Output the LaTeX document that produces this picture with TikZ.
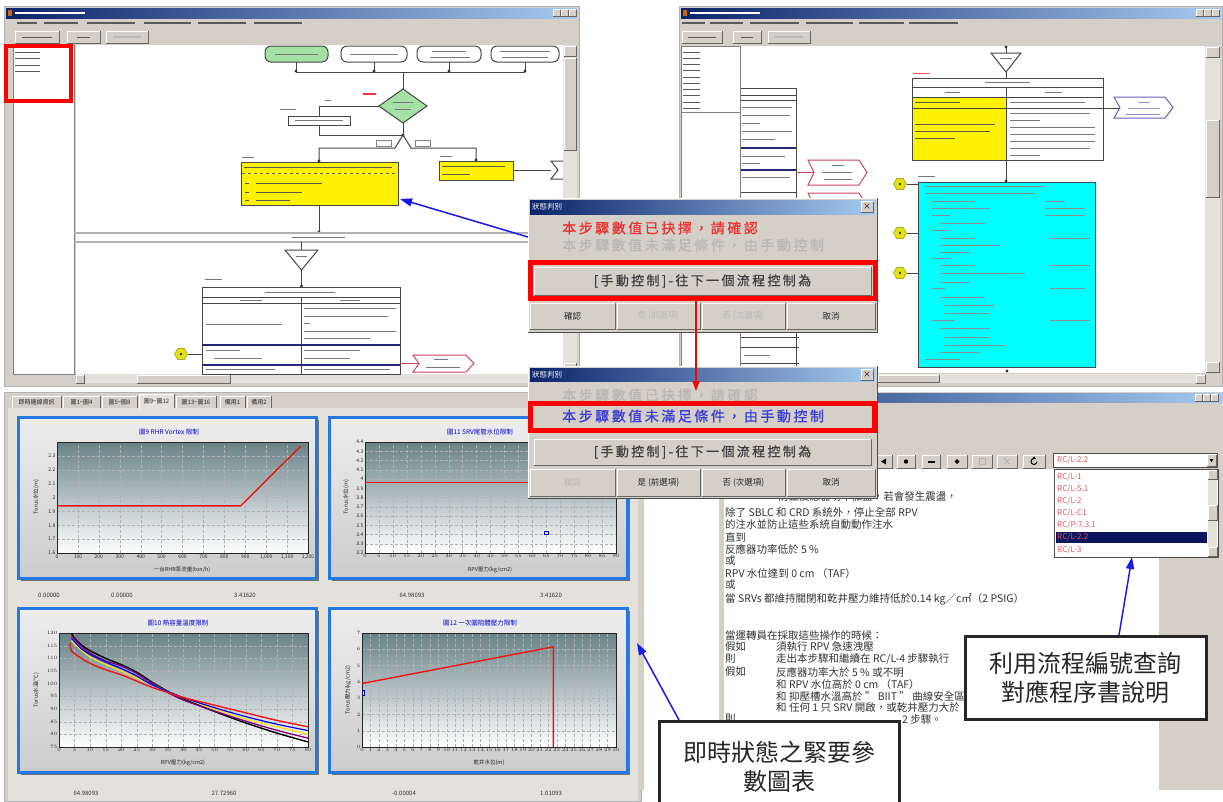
\documentclass[tikz,border=0pt]{standalone}
\usepackage{fontspec}
\usepackage{pgfplots}
\pgfplotsset{compat=1.18}
\usetikzlibrary{arrows.meta,shapes.geometric,calc}
\setmainfont{Noto Sans CJK TC}
\newfontfamily\dlgfont[LetterSpace=18,FakeBold=0.8]{Noto Sans CJK TC}

\definecolor{winbg}{RGB}{212,208,200}
\definecolor{winlt}{RGB}{228,225,218}
\definecolor{navy}{RGB}{10,36,106}
\definecolor{ltblue}{RGB}{166,202,240}
\definecolor{fcgreen}{RGB}{165,225,165}
\definecolor{fccyan}{RGB}{0,255,255}
\definecolor{fcline}{RGB}{70,70,70}
\definecolor{tblnavy}{RGB}{40,40,120}
\definecolor{pinkred}{RGB}{205,70,95}
\definecolor{sigpurple}{RGB}{110,90,190}
\definecolor{hexyellow}{RGB}{225,225,20}
\definecolor{callblue}{RGB}{25,25,235}
\definecolor{panelblue}{RGB}{35,120,225}
\definecolor{plottop}{RGB}{105,130,135}
\definecolor{plotmid}{RGB}{195,208,208}
\definecolor{limitred}{RGB}{240,20,20}
\definecolor{dlgred}{RGB}{235,50,50}
\definecolor{dlgblue}{RGB}{60,60,215}
\definecolor{dlggrey}{RGB}{185,183,178}
\definecolor{listpink}{RGB}{225,85,100}
\definecolor{selnavy}{RGB}{12,22,95}
\definecolor{blurtxt}{RGB}{120,120,120}

% classic raised button face
\newcommand{\wbtn}[4]{%
  \fill[winbg] (#1,#2) rectangle (#3,#4);
  \draw[white] (#1,#4) -- (#1,#2) -- (#3,#2);
  \draw[black!60] (#1,#4) -- (#3,#4) -- (#3,#2);
}
% chart card with shadow and blue frame
\newcommand{\chartcard}[4]{%
  \fill[black!55] (#1+3,#2+3) rectangle (#3+3,#4+3);
  \shade[top color=white!93!black, bottom color=black!20] (#1,#2) rectangle (#3,#4);
  \draw[panelblue, line width=3pt] (#1,#2) rectangle (#3,#4);
}

\tikzset{
  titlebar/.style={left color=navy, right color=ltblue},
  ghost/.style={draw=blurtxt, line width=1.2pt},
  inkline/.style={draw=black!65, line width=1pt},
  ghostw/.style={draw=white, line width=1.3pt},
  fcbox/.style={draw=fcline, line width=1pt},
  hilite/.style={draw=red, line width=5pt},
  callout/.style={draw=black!85, line width=2.6pt, fill=white, align=center,
    text=black!85, font=\fontsize{24}{29}\selectfont, inner sep=0pt},
  callarrow/.style={draw=callblue, line width=1.5pt, -{Triangle[length=12pt,width=8pt]}},
  dlgtext/.style={anchor=west, inner sep=0pt, font=\dlgfont\fontsize{14}{14}\selectfont},
  btntext/.style={inner sep=0pt, font=\fontsize{8.5}{9}\selectfont},
  pane text/.style={anchor=west, inner sep=0pt, text=black!80, font=\fontsize{10.5}{11}\selectfont},
  tick text/.style={inner sep=0pt, font=\fontsize{6}{6}\selectfont, text=black!80},
  chart title/.style={inner sep=0pt, font=\fontsize{6.5}{7}\selectfont, text=blue!80!black},
  axis name/.style={inner sep=0pt, font=\fontsize{5.5}{6}\selectfont, text=black!85},
  list item/.style={anchor=west, inner sep=0pt, text=listpink, font=\fontsize{8}{8}\selectfont},
}

\pgfplotsset{
  chartax/.style={
    scale only axis, anchor=north west,
    axis background/.style={shade, top color=plottop, middle color=plotmid, bottom color=white},
    grid=major,
    major grid style={densely dashed, draw=black!30, line width=0.3pt},
    tick label style={font=\fontsize{5}{5}\selectfont, text=black!85},
    major tick length=0pt,
    axis line style={draw=black!85, line width=0.8pt},
    xticklabel style={inner sep=1.5pt},
    yticklabel style={inner sep=1.5pt},
  },
  limitline/.style={draw=limitred, line width=1.4pt, mark=none},
}

\begin{document}
\begin{tikzpicture}[x=1pt,y=-1pt]
\useasboundingbox (0,0) rectangle (1223,801);
\fill[white] (0,0) rectangle (1223,801);

%================ flow-sheet window, upper left
\fill[winbg] (4,6) rectangle (579,386);
\draw[gray!60] (4,6) rectangle (579,386);
\shade[titlebar] (6,8) rectangle (577,18);
\fill[orange!80!black] (8,10) rectangle (12,16);
\draw[ghostw] (15,13) -- (85,13);
\foreach \x in {553,561,569}{\wbtn{\x}{9.5}{\x+7}{16.5}}
\foreach \a/\b in {17/37,44/78,87/135,144/191,198/246,254/302}{\draw[inkline,line width=1.2pt] (\a,23) -- (\b,23);}
\wbtn{15}{31}{59}{43} \draw[inkline] (22,37) -- (52,37);
\wbtn{67}{31}{100}{43} \draw[inkline] (77,37) -- (90,37);
\wbtn{106}{31}{148}{43} \draw[ghost,draw=gray!55] (113,37) -- (141,37);
\fill[white] (13,45) rectangle (74,374);
\draw[gray] (13,45) rectangle (74,374);
\fill[white] (76,45) rectangle (563,374);
\fill[winlt] (563,45) rectangle (577,374);
\wbtn{564}{46}{576}{56}
\wbtn{564}{58}{576}{150}
\wbtn{564}{363}{576}{373}
\fill[winlt] (76,374) rectangle (563,383);
\wbtn{76}{375}{84}{383}
\wbtn{137}{375}{230}{383}
\foreach \y in {52,58,65,71}{\draw[inkline] (15,\y) -- (40,\y);}
% flow symbols
\filldraw[fcbox, fill=fcgreen, rounded corners=6pt] (265,46) rectangle (328,62);
\filldraw[fcbox, fill=white, rounded corners=6pt] (341,46) rectangle (407,62);
\filldraw[fcbox, fill=white, rounded corners=6pt] (417,46) rectangle (481,62);
\filldraw[fcbox, fill=white, rounded corners=6pt] (491,46) rectangle (559,62);
\draw[ghost,line width=1pt] (275,54) -- (318,54) (350,54) -- (398,54) (432,51) -- (466,51) (430,57) -- (470,57) (500,51) -- (550,51) (502,57) -- (548,57);
\draw[fcbox] (296,62) -- (296,72) (374,62) -- (374,72) (449,62) -- (449,72) (525,62) -- (525,72) (296,72) -- (525,72) (403,72) -- (403,89);
\foreach \x in {296,374,449,525}{\fill[black!80] (\x,71) circle (1.6);}
\filldraw[fcbox, fill=fcgreen] (403,89) -- (427,106) -- (403,123) -- (379,106) -- cycle;
\draw[ghost,line width=1pt] (393,102) -- (413,102) (395,109) -- (411,109);
\draw[draw=red!80, line width=1.2pt] (363,94) -- (376,94);
\draw[fcbox] (379,106) -- (319,106) -- (319,116);
\filldraw[fcbox, fill=white] (288,116) rectangle (350,125);
\draw[ghost,line width=1pt] (295,120.5) -- (343,120.5) (280,109) -- (296,109) (325,100) -- (331,100);
\draw[fcbox] (319,125) -- (319,135) -- (403,135) (403,123) -- (403,135);
\fill[black!80] (403,135) circle (1.6);
\draw[fcbox] (403,135) -- (395,148) -- (319,148) -- (319,162);
\draw[fcbox] (403,135) -- (411,148) -- (476,148) -- (476,161);
\draw[gray, fill=white] (376,140) rectangle (391,146);
\draw[gray, fill=white] (415,140) rectangle (430,146);
\filldraw[fcbox, fill=yellow] (241,162) rectangle (398,205);
\filldraw[fcbox, fill=yellow] (439,161) rectangle (513,180);
\draw[inkline] (244,167) -- (392,167);
\draw[black!60, dashed, line width=0.8pt] (242,173) -- (397,173);
\foreach \y/\l in {183/322,192/302,200/290}{\draw[inkline] (245,\y) -- (249,\y) (256,\y) -- (\l,\y);}
\draw[inkline] (442,166) -- (505,166) (442,174) -- (470,174);
\fill[black!80] (319,161) circle (1.6) (476,160) circle (1.6);
\draw[ghost,line width=0.9pt] (242,157) -- (254,157) (440,156) -- (452,156);
\draw[fcbox] (513,170) -- (551,170);
\draw[fcbox] (563,161) -- (551,161) -- (558,170) -- (551,179) -- (563,179);
\draw[fcbox] (319,205) -- (319,233);
\fill[black!80] (319,232) circle (1.6);
\draw[gray!60, line width=2pt] (74,233) -- (563,233) (74,242) -- (563,242);
\draw[ghost,line width=1pt] (292,237.5) -- (345,237.5);
\draw[fcbox] (301.5,242) -- (301.5,250);
\filldraw[fcbox, fill=white] (285,250) -- (318,250) -- (301.5,270) -- cycle;
\draw[ghost,line width=1pt] (296,256) -- (307,256);
\draw[fcbox] (301.5,270) -- (301.5,287);
\fill[black!80] (301.5,286) circle (1.6);
\draw[ghost,line width=0.9pt] (205,279) -- (222,279);
\filldraw[fcbox, fill=white] (202,287) rectangle (400,374);
\draw[fcbox] (202,297) -- (400,297) (202,303) -- (400,303) (301,297) -- (301,374);
\draw[tblnavy, line width=1.4pt] (202,345) -- (400,345) (202,365) -- (400,365);
\draw[ghost,line width=1pt] (265,292) -- (335,292) (240,300) -- (262,300) (340,300) -- (360,300);
\foreach \y/\l in {308/396,316/388,323/310,331/396,338/370}{\draw[ghost,line width=1pt] (304,\y) -- (\l,\y);}
\draw[ghost,line width=1pt] (206,324) -- (282,324);
\draw[ghost,line width=1pt] (206,350) -- (240,350) (214,358) -- (262,358) (304,350) -- (360,350) (304,358) -- (350,358) (206,369) -- (275,369) (304,369) -- (390,369);
\node[name=hexA, regular polygon, regular polygon sides=6, draw=olive, fill=hexyellow, minimum size=13pt, inner sep=0pt] at (181,354) {};
\fill[black!80] (181,354) circle (1.3);
\draw[fcbox] (hexA.east) -- (202,354);
\filldraw[draw=pinkred, line width=1pt, fill=white] (413,355) -- (466,355) -- (474,363.5) -- (466,372) -- (413,372) -- (419,363.5) -- cycle;
\draw[pinkred, line width=1pt] (400,363.5) -- (419,363.5);
\draw[ghost,line width=0.9pt] (434,359.5) -- (448,359.5) (426,367) -- (460,367);
\draw[red, line width=4pt] (6,46) rectangle (71,101);

%================ flow-sheet window, upper right
\fill[winbg] (679,6) rectangle (1222,386);
\draw[gray!60] (679,6) rectangle (1222,386);
\shade[titlebar] (681,8) rectangle (1221,18);
\fill[orange!80!black] (683,10) rectangle (687,16);
\draw[ghostw] (690,13) -- (760,13);
\foreach \x in {1196,1204,1212}{\wbtn{\x}{9.5}{\x+7}{16.5}}
\foreach \a/\b in {682/705,710/743,750/799,806/853,859/904,909/958}{\draw[inkline,line width=1.2pt] (\a,23) -- (\b,23);}
\wbtn{682}{31}{722}{43} \draw[inkline] (688,37) -- (716,37);
\wbtn{733}{31}{761}{43} \draw[inkline] (741,37) -- (753,37);
\wbtn{768}{31}{810}{43} \draw[ghost,draw=gray!55] (775,37) -- (803,37);
\fill[white] (681,46) rectangle (1205,373);
\fill[winlt] (1205,46) rectangle (1220,373);
\wbtn{1206}{47}{1219}{57}
\wbtn{1206}{120}{1219}{197}
\wbtn{1206}{362}{1219}{372}
\fill[winlt] (681,374) rectangle (1205,383);
\wbtn{878}{375}{939}{382}
\wbtn{1196}{375}{1205}{383}
% left table, partly hidden
\draw[fcbox] (740,88) -- (796,88) (740,95) -- (796,95) (740,100) -- (796,100) (796,88) -- (796,373) (740,192) -- (796,192);
\draw[tblnavy, line width=1.4pt] (740,148) -- (796,148) (740,170) -- (796,170);
\foreach \y/\l in {107/792,115/790,123/760,131/792,139/775,156/785,163/760,177/790}{\draw[ghost,line width=1pt] (742,\y) -- (\l,\y);}
\draw[fcbox] (740,337) -- (799,337) (740,347) -- (799,347) (740,363) -- (799,363);
\draw[ghost,line width=1pt] (744,355) -- (770,355);
% list pane
\fill[white] (681,46) rectangle (740,373);
\draw[gray] (681,46) rectangle (740,373);
\draw[gray] (681,46) rectangle (740,112);
\foreach \y in {52,58,64,70,77,83,89,95,102,108}{\draw[inkline,line width=0.9pt] (683,\y) -- (700,\y);}
% emergency connectors
\draw[pinkred, line width=1pt] (796,172.5) -- (814,172.5);
\filldraw[draw=pinkred, line width=1pt, fill=white] (808,160) -- (859,160) -- (867,172.5) -- (859,185) -- (808,185) -- (814,172.5) -- cycle;
\draw[ghost,line width=0.9pt] (832,165) -- (844,165) (822,172) -- (852,172) (824,179) -- (852,179);
\filldraw[draw=pinkred, line width=1pt, fill=white] (808,193) -- (859,193) -- (867,205.5) -- (859,218) -- (808,218) -- (814,205.5) -- cycle;
% triangle and table
\draw[fcbox] (1006,46) -- (1006,53) (1006,72) -- (1006,78);
\fill[black!80] (1006,47) circle (1.6);
\filldraw[fcbox, fill=white] (991,53) -- (1021,53) -- (1006,72) -- cycle;
\draw[ghost,line width=1pt] (1000,58) -- (1012,58);
\draw[ghost,draw=red!70,line width=0.9pt] (913,73) -- (930,73);
\filldraw[fcbox, fill=white] (912,78) rectangle (1103,160);
\fill[yellow] (912,97) rectangle (1006,160);
\draw[fcbox] (912,78) rectangle (1103,160);
\draw[fcbox] (912,87) -- (1103,87) (912,97) -- (1103,97) (912,108) -- (1103,108) (1006,87) -- (1006,160);
\draw[ghost,line width=1pt] (985,82.5) -- (1030,82.5) (945,92) -- (960,92) (1045,92) -- (1062,92);
\draw[inkline] (915,102) -- (960,102) (915,124) -- (995,124) (915,131) -- (990,131) (915,138) -- (955,138);
\foreach \y/\l in {102/1085,113/1090,120/1040,127/1095,134/1095,141/1095,148/1090,155/1040}{\draw[ghost,line width=1pt] (1010,\y) -- (\l,\y);}
\draw[fcbox] (1103,108) -- (1120,108);
\filldraw[draw=sigpurple, line width=1pt, fill=white] (1114,97) -- (1165,97) -- (1173,107.5) -- (1165,118) -- (1114,118) -- (1120,107.5) -- cycle;
\draw[draw=sigpurple!70, line width=0.9pt] (1138,102) -- (1150,102) (1128,108) -- (1160,108) (1126,114) -- (1160,114);
\draw[fcbox] (1006,160) -- (1006,182);
\fill[black!80] (1006,181) circle (1.6);
\draw[ghost,line width=0.9pt] (918,176) -- (935,176);
\filldraw[fcbox, fill=fccyan] (918,182) rectangle (1095,367);
\foreach \y/\a/\b in {186/925/1045,193/925/1035,201/932/975,208/932/990,215/932/950,223/940/985,230/932/950,238/940/975,245/940/1000,252/940/970,258/932/950,265/940/975,273/940/1025,282/940/970,288/932/945,297/940/985,305/945/995,313/945/990,320/932/955,328/940/990,337/945/990,345/945/1005,352/940/980,359/925/960}{\draw[draw=black!45,line width=1pt] (\a,\y) -- (\b,\y);}
\foreach \y/\a/\b in {201/1045/1065,208/1045/1085,215/1045/1085,238/1050/1090,265/1050/1090,288/1050/1085,320/1050/1090}{\draw[draw=black!45,line width=1pt] (\a,\y) -- (\b,\y);}
\foreach \n/\y in {hexB/184,hexC/233,hexD/273}{
  \node[name=\n, regular polygon, regular polygon sides=6, draw=olive, fill=hexyellow, minimum size=13pt, inner sep=0pt] at (900,\y) {};
  \fill[black!80] (900,\y) circle (1.3);
  \draw[fcbox] (\n.east) -- (918,\y);
}
\fill[black!80] (1007,371) circle (1.6);

%================ trend-chart window, lower left
\fill[winbg] (4,392) rectangle (641,801);
\draw[gray!60] (4,392) rectangle (641,801);
\fill[winlt] (8,408) rectangle (638,801);
\foreach \a/\b/\t/\n in {12/61/即時連線資訊/tab1,63/100/圖1\textasciitilde 圖4/tab2,102/137/圖5\textasciitilde 圖8/tab3,176/216/圖13\textasciitilde 圖16/tab5,220/245/備用1/tab6,247/271/備用2/tab7}{
  \fill[winbg] (\a,396) rectangle (\b,408);
  \draw[white] (\a,408) -- (\a,396) -- (\b,396);
  \draw[black!60] (\b,396) -- (\b,408);
  \node[name=\n, inner sep=0pt, font=\fontsize{6}{6}\selectfont, text=black!85] at ({(\a+\b)/2},402) {\t};
}
\fill[winlt] (139,394) rectangle (174,409);
\draw[white] (139,409) -- (139,394) -- (174,394);
\draw[black!60] (174,394) -- (174,408);
\node[name=tab4, inner sep=0pt, font=\fontsize{6}{6}\selectfont, text=black!85] at (156.5,401) {圖9\textasciitilde 圖12};

\chartcard{18}{417}{316}{578}
\chartcard{329}{417}{627}{578}
\chartcard{18}{608}{316}{772}
\chartcard{329}{608}{627}{772}

\coordinate (axA) at (57,442);
\coordinate (axB) at (365,442);
\coordinate (axC) at (59,633);
\coordinate (axD) at (362,633);

\begin{axis}[chartax, at={(axA)}, width=251pt, height=111pt,
  xmin=0, xmax=1200, ymin=1.6, ymax=2.4,
  xtick={0,100,...,1200},
  xticklabels={0,100,200,300,400,500,600,700,800,900,{1,000},{1,100},{1,200}},
  ytick={1.6,1.7,1.8,1.9,2,2.1,2.2,2.3},
  yticklabels={1.6,1.7,1.8,1.9,2,2.1,2.2,2.3}]
\addplot[limitline] coordinates {(0,1.94) (878,1.94) (1165,2.37)};
\end{axis}

\begin{axis}[chartax, at={(axB)}, width=251pt, height=111pt,
  xmin=0, xmax=90, ymin=3.2, ymax=4.4,
  xtick={0,5,...,90},
  ytick={3.2,3.3,3.4,3.5,3.6,3.7,3.8,3.9,4,4.1,4.2,4.3,4.4},
  yticklabels={3.2,3.3,3.4,3.5,3.6,3.7,3.8,3.9,4,4.1,4.2,4.3,4.4}]
\addplot[limitline] coordinates {(0,3.965) (45,3.965) (90,3.965)};
\addplot[only marks, mark=square, mark size=1.7pt, draw=blue!70!black, line width=0.8pt] coordinates {(65,3.42)};
\end{axis}

\begin{axis}[chartax, at={(axC)}, width=249pt, height=114pt,
  xmin=0, xmax=80, ymin=75, ymax=120,
  xtick={0,5,...,80}, ytick={75,80,...,120}]
\addplot[black, line width=1.4pt, smooth, mark=none] coordinates {(4,120) (5,118) (7,115.5) (10,113) (15,110) (20,107.5) (25,104.5) (30,100.5) (35,97) (40,94) (50,89) (60,84.5) (70,80.5) (80,77)};
\addplot[violet, line width=1.3pt, smooth, mark=none] coordinates {(4,119) (7,115) (10,112) (15,109) (20,107) (25,104) (30,100) (35,96.5) (40,93.5) (50,89.2) (60,85.2) (70,81.6) (80,78.5)};
\addplot[yellow!85!orange, line width=1.2pt, smooth, mark=none] coordinates {(4,117) (10,110.5) (20,105) (30,99.5) (40,94.5) (50,90) (60,86) (70,83) (80,80)};
\addplot[blue, line width=1.2pt, smooth, mark=none] coordinates {(4,118) (7,114) (10,111.5) (15,108.5) (20,106) (25,103) (30,99.5) (40,94.5) (50,90.5) (60,87) (70,84) (80,81.5)};
\addplot[limitline, smooth] coordinates {(3.5,116) (4,113) (6,111) (10,108) (15,105.5) (20,103.5) (25,101) (30,98.5) (35,96.5) (40,94.5) (50,91.5) (60,88.5) (70,85.5) (80,83)};
\end{axis}

\begin{axis}[chartax, at={(axD)}, width=254pt, height=114pt,
  xmin=0, xmax=30, ymin=0, ymax=7,
  xtick={0,1,...,30}, ytick={0,1,...,7},
  xticklabel style={font=\fontsize{4.3}{4.3}\selectfont}]
\addplot[limitline] coordinates {(0,3.9) (22.6,6.15) (22.6,0)};
\addplot[draw=blue!70!black, line width=0.8pt, mark=none] coordinates {(0.05,3.15) (0.25,3.15) (0.25,3.5) (0.05,3.5)};
\end{axis}

\node[name=ctA, chart title] at (169,432) {圖9 RHR Vortex 限制};
\node[name=ctB, chart title] at (480,432) {圖11 SRV尾管水位限制};
\node[name=ctC, chart title] at (178,623) {圖10 熱容量溫度限制};
\node[name=ctD, chart title] at (480,623) {圖12 一次圍阻體壓力限制};
\node[name=ylA, axis name, rotate=90] at (36,497) {Torus水位(m)};
\node[name=ylB, axis name, rotate=90] at (346,497) {Torus水位(m)};
\node[name=ylC, axis name, rotate=90] at (36,690) {Torus水溫(°C)};
\node[name=ylD, axis name, rotate=90] at (348,690) {Torus壓力(kg/cm2)};
\node[name=xlA, axis name] at (182,570) {一台RHR泵流量(ton/h)};
\node[name=xlB, axis name] at (490,570) {RPV壓力(kg/cm2)};
\node[name=xlC, axis name] at (183,763) {RPV壓力(kg/cm2)};
\node[name=xlD, axis name] at (489,763) {乾井水位(m)};
\foreach \n/\x/\y/\t in {vA/49/595/0.00000,vB/122/595/0.00000,vC/245/595/3.41620,vD/412/595/64.98093,vE/551/595/3.41620,vF/86/793/64.98093,vG/224/793/27.72960,vH/404/793/-0.00004,vI/551/793/1.01093}{
  \node[name=\n, tick text] at (\x,\y) {\t};
}

%================ procedure text window, lower right
\fill[winbg] (641,392) rectangle (1223,790);
\shade[titlebar] (642,393) rectangle (1223,402);
\foreach \x in {1195,1203,1211}{\wbtn{\x}{394}{\x+7}{401}}
\foreach \a/\b in {875/892,897/915,922/940,947/967,972/992,997/1017,1023/1045}{\wbtn{\a}{455}{\b}{468}}
\fill[black] (881,461.5) -- (886,458.5) -- (886,464.5) -- cycle;
\fill[black] (906,461.5) circle (2.2);
\fill[black] (928,460.5) rectangle (935,462.5);
\fill[black] (957,459) -- (959.5,461.5) -- (957,464) -- (954.5,461.5) -- cycle;
\draw[gray!60] (979,458.5) rectangle (985,464.5);
\draw[gray!60, line width=0.8pt] (1004,458.5) -- (1010,464.5) (1010,458.5) -- (1004,464.5);
\draw[black, line width=1pt, -{Triangle[length=2.5pt,width=3pt]}] (1037,461.5) arc (0:300:3);
\filldraw[fill=white, draw=black!70] (1053,453) rectangle (1217,467);
\wbtn{1207}{454.5}{1216}{466}
\fill[black] (1209.5,459) -- (1213.5,459) -- (1211.5,462) -- cycle;
\node[name=combo, list item] at (1057,460) {RC/L-2.2};
\fill[white] (644,469) rectangle (719,801);
\fill[winbg] (719,469) rectangle (724,801);
\fill[white] (724,469) rectangle (1159,801);
% procedure wording
\node[name=p0, pane text, anchor=east] at (957,496) {防止反應器功率振盪，若會發生震盪，};
\foreach \n/\y/\t in {p1/512/{除了 SBLC 和 CRD 系統外，停止全部 RPV},p2/524/{的注水並防止這些系統自動動作注水},p3/537/{直到},p4/549/{反應器功率低於 5 \%},p5/561/{或},p6/573/{RPV 水位達到 0 cm （TAF）},p7/585/{或},p8/599/{當 SRVs 都維持關閉和乾井壓力維持低於0.14 kg／c㎡（2 PSIG）},p9/635/{當運轉員在採取這些操作的時候：},q1/647/{假如},q2/659/{則},q3/672/{假如},q4/719/{則}}{
  \node[name=\n, pane text] at (725,\y) {\t};
}
\foreach \n/\y/\t in {r1/647/{須執行 RPV 急速洩壓},r2/659/{走出本步驟和繼續在 RC/L-4 步驟執行},r3/672/{反應器功率大於 5 \% 或不明},r4/684/{和 RPV 水位高於 0 cm （TAF）},r5/696/{和 抑壓槽水溫高於 " BIIT " 曲線安全區域},r6/708/{和 任何 1 只 SRV 開啟，或乾井壓力大於}}{
  \node[name=\n, pane text] at (776,\y) {\t};
}
\node[name=r7, pane text] at (902,719) {2 步驟。};
% drop-down list
\filldraw[fill=white, draw=black!70] (1054,469) rectangle (1218,557);
\fill[selnavy] (1056,532) rectangle (1207,543);
\fill[winlt] (1208,470) rectangle (1217,556);
\wbtn{1208}{470}{1217}{479}
\wbtn{1208}{505}{1217}{520}
\wbtn{1208}{547}{1217}{556}
\foreach \n/\y/\t in {i1/477/{RC/L-1},i2/489/{RC/L-5.1},i3/501/{RC/L-2},i4/513/{RC/L-C1},i5/525/{RC/P-7.3.1},i6/537.5/{RC/L-2.2},i7/550/{RC/L-3}}{
  \node[name=\n, list item] at (1057,\y) {\t};
}

%================ state dialog, first stage
\fill[winbg] (528,198) rectangle (877,332);
\draw[white] (528,332) -- (528,198) -- (877,198);
\draw[black!70] (528,332) -- (877,332) -- (877,198);
\shade[titlebar] (530,200) rectangle (875,214);
\node[name=dAtitle, anchor=west, text=white, inner sep=0pt, font=\fontsize{7.5}{8}\selectfont] at (532,207) {狀態判別};
\wbtn{861}{201.5}{873}{212.5}
\node[name=dAx, inner sep=0pt, font=\fontsize{8}{8}\selectfont] at (867,207) {×};
\node[name=dAl1, dlgtext, text=dlgred] at (562,228) {本步驟數值已抉擇，請確認};
\node[name=dAl2, dlgtext, text=dlggrey] at (562,245) {本步驟數值未滿足條件，由手動控制};
\wbtn{534}{267}{871}{295}
\node[name=dAbtn, inner sep=0pt, text=black!75, font=\dlgfont\fontsize{13}{13}\selectfont] at (702.5,281) {[手動控制]-往下一個流程控制為};
\draw[hilite] (530.5,262.5) rectangle (875.5,298.5);
\foreach \a/\b in {530/615,617/700,702/785,787/875}{\wbtn{\a}{303}{\b}{329}}
\node[name=dAb1, btntext, text=black!85] at (572.5,316) {確認};
\node[name=dAb2, btntext, text=dlggrey] at (658.5,316) {是 (前選項)};
\node[name=dAb3, btntext, text=dlggrey] at (743.5,316) {否 (次選項)};
\node[name=dAb4, btntext, text=black!85] at (831,316) {取消};

%================ state dialog, second stage
\fill[winbg] (528,366) rectangle (877,498);
\draw[white] (528,498) -- (528,366) -- (877,366);
\draw[black!70] (528,498) -- (877,498) -- (877,366);
\shade[titlebar] (530,368) rectangle (875,381);
\node[name=dBtitle, anchor=west, text=white, inner sep=0pt, font=\fontsize{7.5}{8}\selectfont] at (532,374.5) {狀態判別};
\wbtn{861}{369}{873}{380}
\node[name=dBx, inner sep=0pt, font=\fontsize{8}{8}\selectfont] at (867,374.5) {×};
\node[name=dBl1, dlgtext, text=dlggrey] at (562,395) {本步驟數值已抉擇，請確認};
\node[name=dBl2, dlgtext, text=dlgblue] at (562,416) {本步驟數值未滿足條件，由手動控制};
\draw[hilite] (530.5,403.5) rectangle (874.5,430.5);
\wbtn{534}{439}{871}{465}
\node[name=dBbtn, inner sep=0pt, text=black!75, font=\dlgfont\fontsize{13}{13}\selectfont] at (702.5,452) {[手動控制]-往下一個流程控制為};
\foreach \a/\b in {530/615,617/700,702/785,787/875}{\wbtn{\a}{469}{\b}{496}}
\node[name=dBb1, btntext, text=dlggrey] at (572.5,482.5) {確認};
\node[name=dBb2, btntext, text=black!85] at (658.5,482.5) {是 (前選項)};
\node[name=dBb3, btntext, text=black!85] at (743.5,482.5) {否 (次選項)};
\node[name=dBb4, btntext, text=black!85] at (831,482.5) {取消};

% flow between the two dialog stages
\coordinate (stepFrom) at (696,301);
\coordinate (stepTo) at (696,391);
\draw[red, line width=1.4pt, -{Triangle[length=10pt,width=7pt]}] (stepFrom) -- (stepTo);

%================ annotations
\node[name=cbA, callout, minimum width=240pt, minimum height=92pt, anchor=north west] at (658,720) {即時狀態之緊要參\\數圖表};
\node[name=cbB, callout, minimum width=241pt, minimum height=83pt, anchor=north west] at (964,635) {利用流程編號查詢\\對應程序書說明};
\coordinate (yellowTip) at (400,199);
\coordinate (dlgEdge) at (528,237);
\coordinate (chartTip) at (637,643);
\coordinate (listTip) at (1132,557);
\draw[callarrow] (dlgEdge) -- (yellowTip);
\draw[callarrow] ($(cbA.north west)+(21,0)$) -- (chartTip);
\draw[callarrow] ($(cbB.north west)+(155,0)$) -- (listTip);
\end{tikzpicture}
\end{document}
